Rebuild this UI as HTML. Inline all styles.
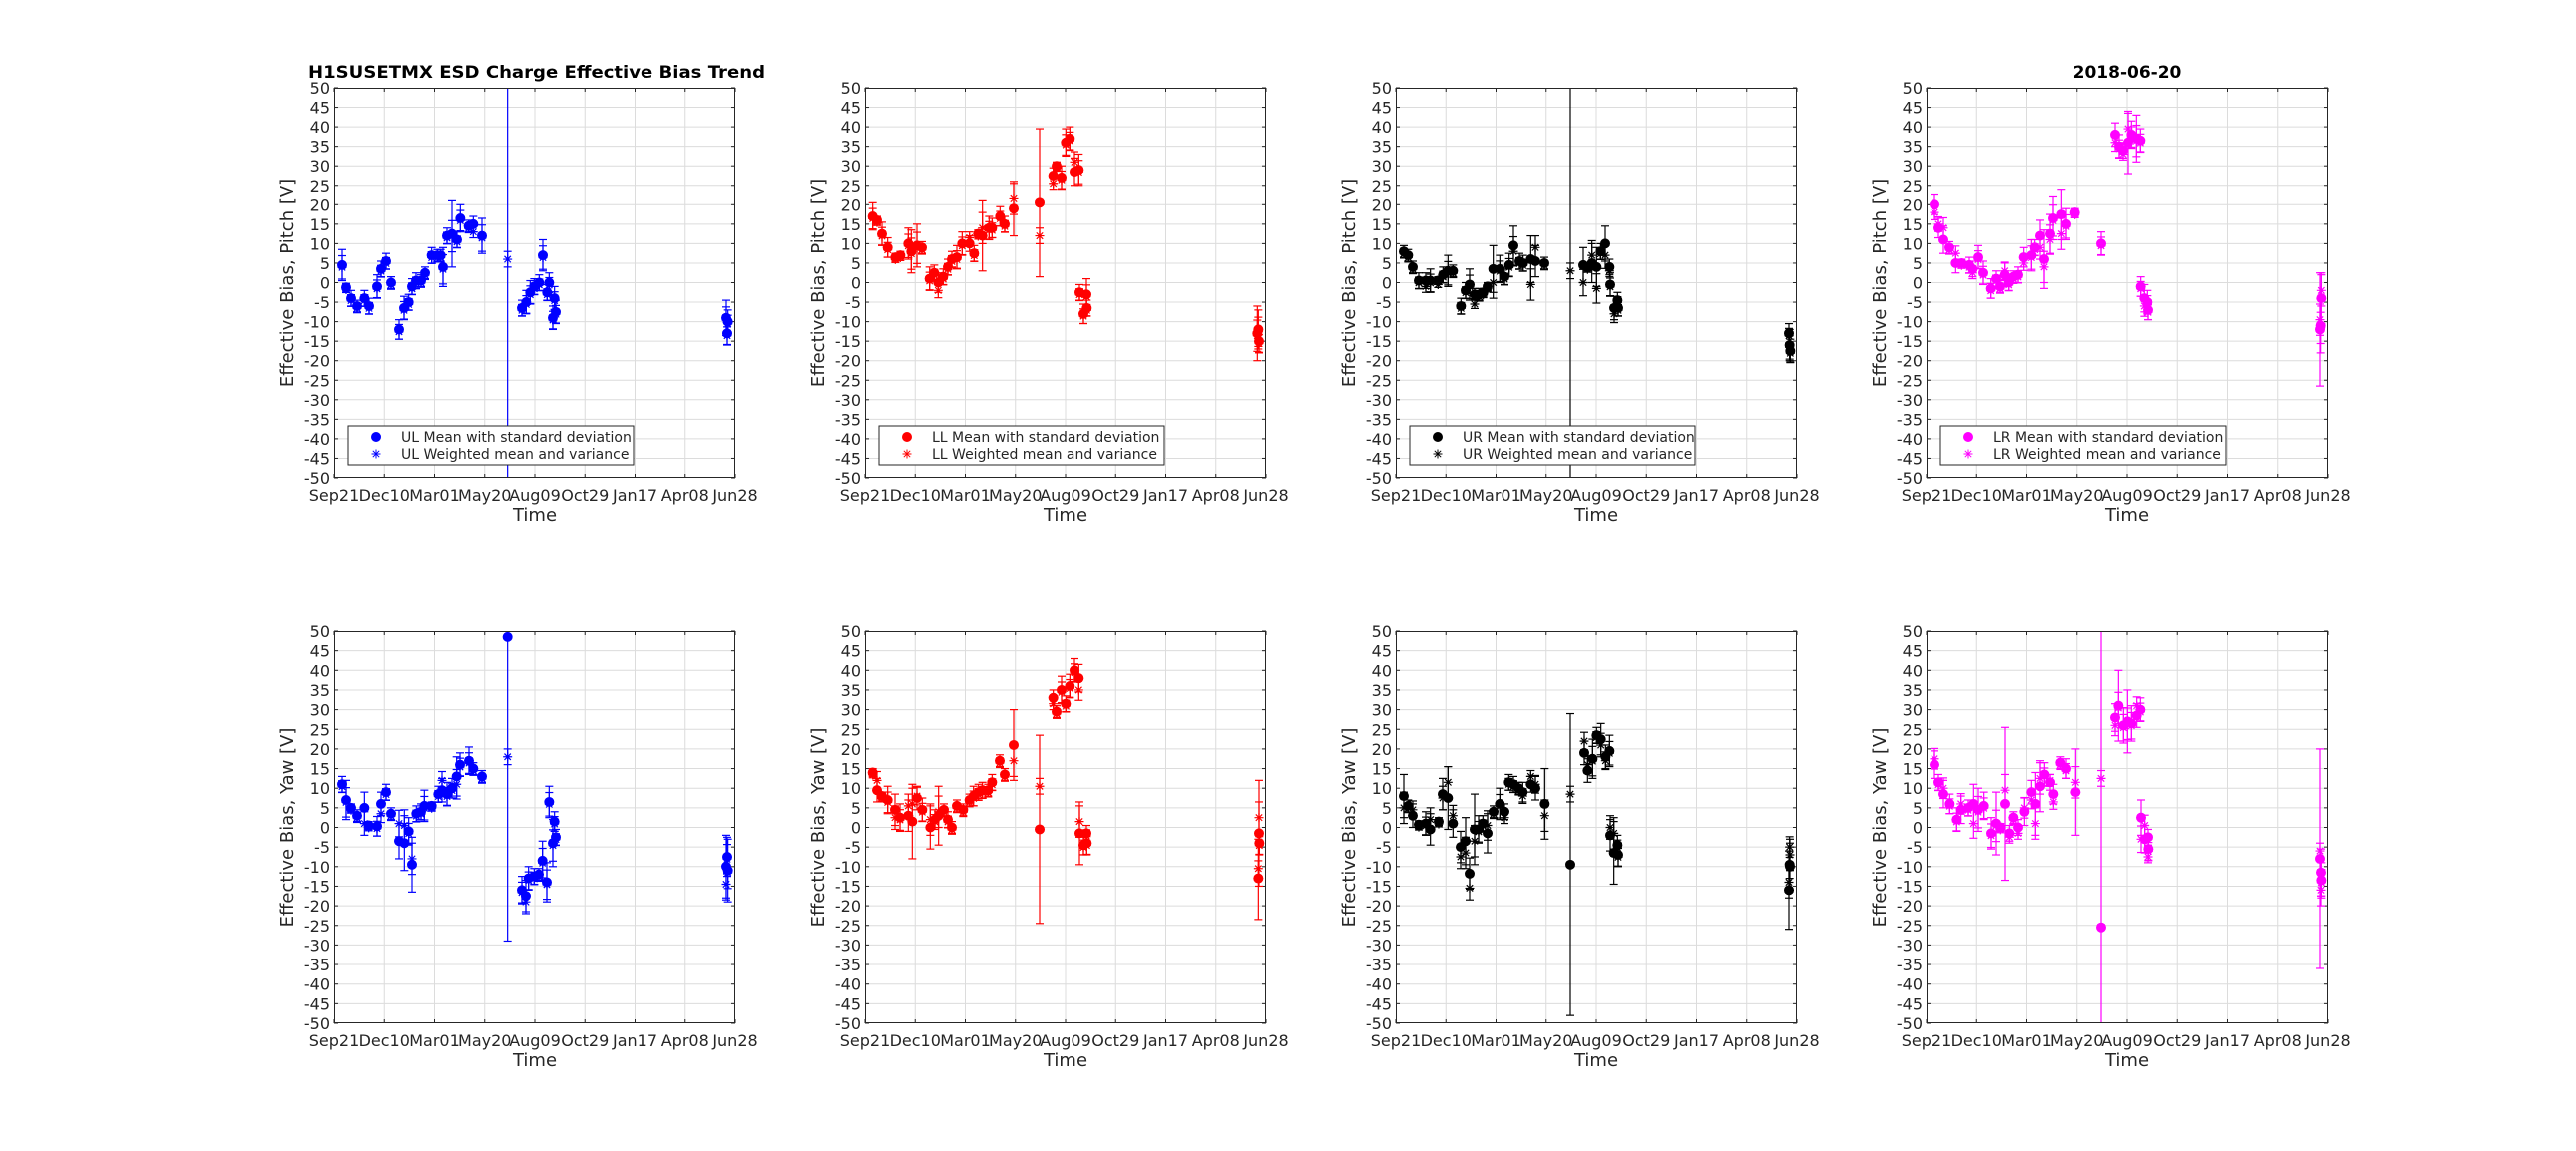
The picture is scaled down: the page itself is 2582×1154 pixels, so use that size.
<!DOCTYPE html>
<html><head><meta charset="utf-8"><style>
html,body{margin:0;padding:0;background:#fff;}
svg{display:block;font-family:"DejaVu Sans","Liberation Sans",sans-serif;}
</style></head><body>
<svg id="s" width="2582" height="1154" xmlns="http://www.w3.org/2000/svg"></svg>
<script>
const NS="http://www.w3.org/2000/svg";
const S=document.getElementById('s');
function el(t,a,p){const e=document.createElementNS(NS,t);for(const k in a)e.setAttribute(k,a[k]);(p||S).appendChild(e);return e;}
function tx(str,a,p){const e=el('text',a,p);e.textContent=str;return e;}
const COLS=[335,867,1399,1931],W=402;
const ROWS=[{T:88,H:391},{T:633,H:393}];
const XL=['Sep21','Dec10','Mar01','May20','Aug09','Oct29','Jan17','Apr08','Jun28'];
const YL=['50','45','40','35','30','25','20','15','10','5','0','-5','-10','-15','-20','-25','-30','-35','-40','-45','-50'];
const NAMES=['UL','LL','UR','LR'],COLORS=['#0000ff','#ff0000','#000000','#ff00ff'];
const D={
'0_0':[[24,4.5,4],[36,-1.2,1],[51,-4,2],[69,-6,1.5],[91,-4,2],[105,-6,2],[129,-1,3],[141,3.5,2],[156,5.5,2],[171,0,1.5],[195,-12,2.5],[210,-6.5,3],[224,-5,2],[234,-1,2],[246,0.5,2],[261,0.5,1.5],[273,2.5,1.5],[293,7,2],[310,7,1.5],[320,7,1.5],[327,4,5],[339,12,2],[354,12.5,8.5],[369,11,2],[379,16.5,3.5],[404,14.5,1.5],[418,15,2,13],[444,12,4.5],[521,60,-50,60,6],[564,-6.5,2],[577,-5,3],[589,-2.5,3],[601,-1,2],[616,0,2],[627,7,4],[640,-2.5,2],[646,0,2.5],[657,-9,3],[662,-4,3],[666,-7.5,3],[1179,-9,4.5],[1182,-13,3],[1184,-10,3]],
'1_0':[[24,11,2],[36,7,5],[51,5,1],[69,3,1.5],[91,5,4,1],[104,0.5,1],[129,0.3,2.5],[141,6,3,3.5],[156,9,2],[171,3.5,1.5],[195,-3.5,4.5,1],[211,-4,7,0.5],[224,-1,3.5],[234,-9.5,7,-8],[247,3.5,2],[261,4,2],[271,5.5,4],[293,5.5,1],[313,8.5,2],[324,9.5,3,12],[339,8.5,3],[354,10,2.5],[368,13,5,11],[378,16,3],[405,17,3.5],[418,15,1.5],[444,13,1.5],[521,48.5,-29,48.5,18],[564,-16,3.5],[576,-17.5,4,-19],[584,-13,3],[601,-12.5,2],[615,-12,1.5],[626,-8.5,5],[639,-14,5],[646,6.5,4],[657,-4,6],[662,1.5,2.5],[666,-2.5,2],[1179,-10,8,-14.5],[1182,-7.5,5],[1184,-11,8]],
'0_1':[[23,17,3.5],[36,16,1],[51,12.5,3],[68,9,2.5],[91,6.5,1],[106,7,1],[130,10,4],[139,8,5.5],[156,9.5,5.5],[171,9,1.5],[194,1,3],[208,2.5,2],[220,0,2.5,-2],[235,1.5,2],[249,4,2],[261,6,2],[276,6.5,3],[292,10,3],[314,10,2,11.5],[328,7.5,2],[340,12.5,1],[353,12,9,14],[373,14,3],[382,14,2.5],[406,17,2.5],[420,15,2],[447,19,7,21.5],[525,20.5,1.5,39.5,12],[566,27.5,2,25.5],[576,30,1],[591,27,3],[604,36,3.5],[616,37,3],[630,28.5,3.5,31],[643,29,4],[645,-2.5,2],[657,-8,2.5],[666,-3,4],[667,-6.5,2],[1180,-13,7],[1183,-12,5],[1185,-15,3]],
'1_1':[[23,14,1],[36,9.5,3,12],[51,8,1],[68,7,3.5],[90,4.5,4,2.5],[105,2.5,3.5],[130,3,4,5.5],[142,1.5,9.5,6],[156,7.5,3,8],[172,4.5,3],[196,0,5.5,2],[210,2,2.5],[221,3,7.5,4],[237,4.5,1.5],[249,2,2],[261,0,1.5],[276,5.5,1.5],[295,4.5,1.5],[314,7,1.5],[326,8,2.5],[341,9,2],[353,9.5,2],[370,9.5,1.5],[382,11.5,2],[405,17,1.5],[420,13.5,1.5],[447,21,9,17],[525,-0.5,-24.5,23.5,10.5],[566,33,2,31.5],[576,29.5,1.5],[591,35,3.5],[604,31.5,2],[616,36,3],[630,40,3],[643,38,3.5,35],[645,-1.5,8,1.5],[657,-4.5,2.5],[666,-1.5,2],[667,-4,3],[1183,-13,-23.5,-3,-10.5],[1185,-1.5,13.5,2.5],[1186,-4,3]],
'0_2':[[24,8,1.5],[37,7,1.5],[51,4,1.5],[69,0.5,2],[90,0.5,2,-1],[104,0.5,3],[127,0.5,1,-0.5],[142,2,2],[157,3,4],[172,3,1.5],[196,-6,2],[210,-2,2],[222,-0.5,4],[237,-3,1.5,-5.5],[251,-3,1.5],[263,-2.5,1],[276,-1,1],[293,3.5,6,0],[313,3.5,3.5],[327,1.5,2],[341,4.5,3],[354,9.5,5,8],[372,5.5,2],[383,5,2],[406,6,6,-0.5],[420,5.5,4,9],[447,5,1.5],[525,60,-50,60,3],[564,4.5,4.5,0],[577,4,1],[590,5,5,7],[604,4,5,-1.5],[616,8,2],[630,10,4.5,7],[643,4,2,3],[645,-0.5,3],[657,-6.5,3,-8],[667,-4.5,2],[669,-6.5,2],[1182,-13,2.5],[1184,-16,4],[1186,-17.5,3]],
'1_2':[[24,8,5.5,5],[37,5.5,1.5],[51,3,3,4.5],[69,0.7,1],[90,1,3],[104,-0.5,4,2],[129,1.5,1],[141,8.5,4,7.5],[157,7.5,8,11.5],[172,1,3.5,3],[195,-5,4,-7.5],[210,-3.5,6,-6.5],[222,-11.8,4,-15.5],[237,-0.5,9,-3.5],[249,-0.5,3.5],[262,1,2],[276,-1.5,5,0.5],[294,4,1.5],[313,6,4],[327,4,2,2.5],[340,11.5,2,11],[354,11,2],[370,10,1.5],[382,9,2.5,8],[406,11,2,13],[420,10,3,11],[448,6,9,3],[525,-9.5,-48,29,8.5],[567,19,3,22],[577,14.5,3,16],[592,17.5,5],[604,23.5,2],[617,22.5,4,21],[631,18,3,17],[643,19.5,4],[645,-2,4,0],[656,-6.5,8,-1.5],[667,-4.5,2.5],[669,-7,3],[1182,-16,10,-14],[1184,-9.5,3.5,-5],[1185,-10,6,-7]],
'0_3':[[24,20,2.5,18],[36,14,2.5,15],[51,11,3.5,14],[69,9,1.5],[88,5,2.5,7.5],[106,5,1],[129,4.5,2],[139,3.5,2,2.5],[156,6.5,3],[171,2.5,3],[194,-1.5,2.5],[210,1,2],[222,-1,1.5],[236,2,3,3],[248,0,2],[262,1.5,1.5],[276,2,2],[293,6.5,2.5,5],[316,7,4],[326,9,2],[342,12,4,9],[354,6,7.5,4],[372,12.5,5,11],[381,16.5,5.5],[406,17.5,6.5,12.5],[420,15,4],[446,18,1],[525,10,3],[567,38,3,36],[579,35,3],[591,34,2,33],[606,36,8,39.5],[616,38,3.5],[631,37,6],[643,36.5,3],[644,-1,2.5],[655,-4,3.5,-6],[664,-5,3],[666,-7,2.5],[1182,-12,14.5,-9.5],[1184,-11,7],[1186,-4,6.5,-2]],
'1_3':[[24,16,3.5,17.5],[36,11.5,2],[51,8.5,3.5,10],[70,6,2.5],[91,2,3],[104,4.5,3.5,6],[126,5,2],[142,6,5,1],[156,4.5,5.5],[173,5.5,3.5],[195,-1.5,4],[210,1,8],[223,0,1],[237,6,19.5,9.5],[250,-1.5,2,-2.5],[262,2.5,1.5],[276,0,2,-1.5],[295,4,3.5,5],[316,9,3,7],[328,6,8,1],[342,10.5,6.5,12.5],[355,13.5,3],[372,11.5,2,12],[382,8.5,2.5,6.5],[403,16.5,1.5],[420,15,2.5],[448,9,11,11.5],[525,-25.5,-50,50,12.5],[567,28,3.5,26],[577,31,9],[592,26,4.5],[604,27,8],[616,26.5,4.5],[632,28.5,3,31],[643,30,3],[645,2.5,4.5,-3],[656,-3,3.5,0.5],[666,-2.5,2,-7.5],[667,-5.5,3],[1182,-8,-36,20,-6],[1185,-11.5,6,-16],[1186,-13.5,4.5]]
};
const defs=el('defs',{});
ROWS.forEach((R,ri)=>{
 COLS.forEach((X0,ci)=>{
  const T=R.T,H=R.H,B=T+H,col=COLORS[ci];
  const ym=v=>T+(50-v)/100*H, xm=x=>X0+x/3;
  const cid='c'+ri+ci;
  const cp=el('clipPath',{id:cid},defs); el('rect',{x:X0,y:T,width:W,height:H},cp);
  el('rect',{x:X0,y:T,width:W,height:H,fill:'#fff'});
  const g=el('g',{stroke:'#dcdcdc','stroke-width':1});
  for(let i=1;i<8;i++){const x=X0+i*W/8;el('line',{x1:x,y1:T,x2:x,y2:B},g);}
  for(let i=1;i<20;i++){const y=T+i*H/20;el('line',{x1:X0,y1:y,x2:X0+W,y2:y},g);}
  const tk=el('g',{stroke:'#262626','stroke-width':1});
  for(let i=0;i<=8;i++){const x=X0+i*W/8;el('line',{x1:x,y1:B,x2:x,y2:B-4},tk);el('line',{x1:x,y1:T,x2:x,y2:T+4},tk);}
  for(let i=0;i<=20;i++){const y=T+i*H/20;el('line',{x1:X0,y1:y,x2:X0+4,y2:y},tk);el('line',{x1:X0+W,y1:y,x2:X0+W-4,y2:y},tk);}
  YL.forEach((l,i)=>tx(l,{x:X0-4,y:T+i*H/20+6,'text-anchor':'end','font-size':16,fill:'#262626'}));
  XL.forEach((l,i)=>tx(l,{x:X0+i*W/8,y:B+23,'text-anchor':'middle','font-size':16,fill:'#262626'}));
  tx('Time',{x:X0+W/2,y:B+43,'text-anchor':'middle','font-size':18,fill:'#262626'});
  const yl=ri==0?'Effective Bias, Pitch [V]':'Effective Bias, Yaw [V]';
  tx(yl,{x:0,y:0,transform:`translate(${X0-41},${T+H/2}) rotate(-90)`,'text-anchor':'middle','font-size':18,fill:'#262626'});
  const dg=el('g',{'clip-path':`url(#${cid})`,stroke:col,fill:col,'stroke-width':1.2});
  function ebar(x,lo,hi){el('line',{x1:x,y1:ym(lo),x2:x,y2:ym(hi)},dg);el('line',{x1:x-4,y1:ym(lo),x2:x+4,y2:ym(lo)},dg);el('line',{x1:x-4,y1:ym(hi),x2:x+4,y2:ym(hi)},dg);}
  function star(x,y){const r=4.5,d=3.2;el('path',{d:`M${x-r},${y}H${x+r}M${x},${y-r}V${y+r}M${x-d},${y-d}L${x+d},${y+d}M${x-d},${y+d}L${x+d},${y-d}`,fill:'none'},dg);}
  D[ri+'_'+ci].forEach(p=>{
   const x=xm(p[0]);let y=p[1],lo,hi,s,se;
   if(p.length==5){lo=p[2];hi=p[3];s=p[4];se=2;}
   else{lo=y-p[2];hi=y+p[2];s=p.length==4?p[3]:y-0.6;se=Math.min(p[2]*0.75,4);}
   ebar(x,lo,hi); ebar(x,s-se,s+se);
   el('circle',{cx:x,cy:ym(y),r:5,stroke:'none'},dg);
   star(x,ym(s));
  });
  el('rect',{x:X0+0.5,y:T+0.5,width:W-1,height:H-1,fill:'none',stroke:'#262626','stroke-width':1});
  if(ri==0){
   const lx=X0+14,ly=427;
   el('rect',{x:lx,y:ly,width:286,height:39,fill:'#fff',stroke:'#262626','stroke-width':1});
   el('circle',{cx:lx+28,cy:ly+11,r:5,fill:col});
   const sg=el('g',{stroke:col});const sx=lx+28,sy=ly+28,r=4.5,d=3.2;
   el('path',{d:`M${sx-r},${sy}H${sx+r}M${sx},${sy-r}V${sy+r}M${sx-d},${sy-d}L${sx+d},${sy+d}M${sx-d},${sy+d}L${sx+d},${sy-d}`,fill:'none'},sg);
   const n=NAMES[ci];
   tx(n+' Mean with standard deviation',{x:lx+53,y:ly+16,'font-size':14,fill:'#262626'});
   tx(n+' Weighted mean and variance',{x:lx+53,y:ly+33,'font-size':14,fill:'#262626'});
  }
 });
});
tx('H1SUSETMX ESD Charge Effective Bias Trend',{x:309,y:78,'font-size':17,'font-weight':'bold',fill:'#000',textLength:458,lengthAdjust:'spacingAndGlyphs'});
tx('2018-06-20',{x:2132,y:78,'text-anchor':'middle','font-size':17,'font-weight':'bold',fill:'#000'});
</script>
</body></html>
